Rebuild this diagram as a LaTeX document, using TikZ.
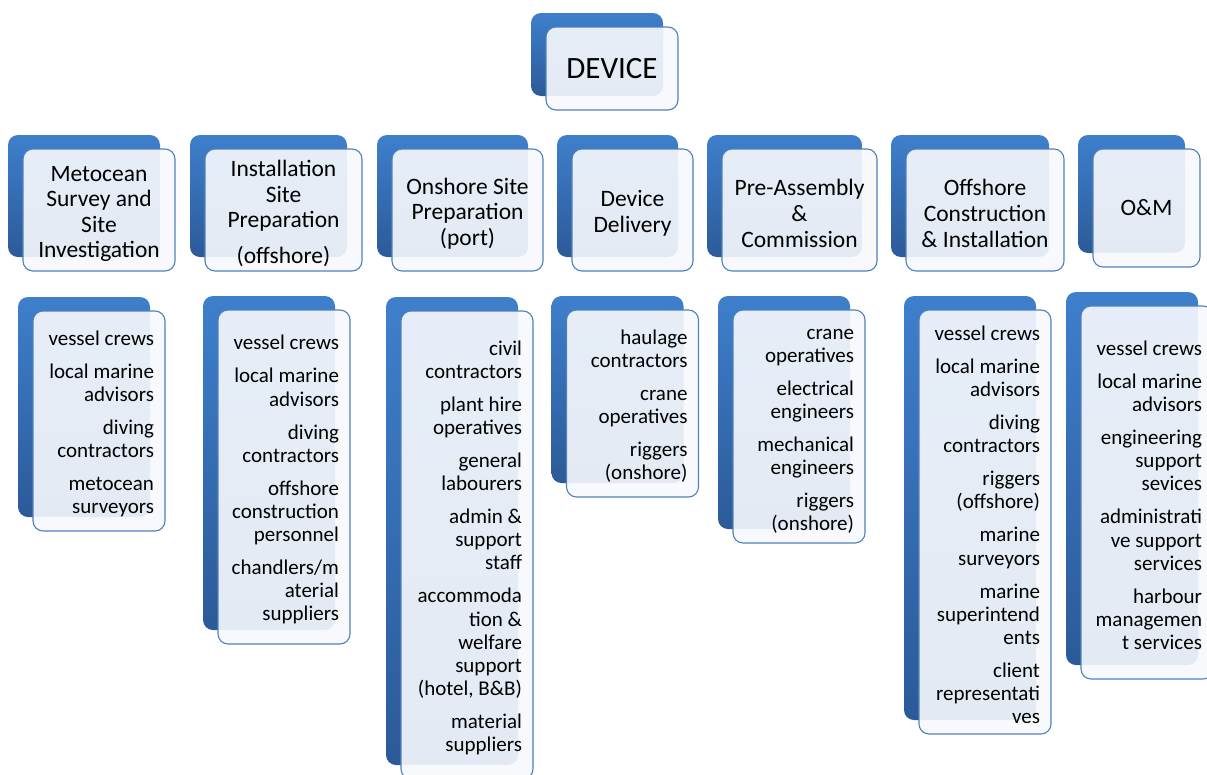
\documentclass[tikz,border=0pt]{standalone}
\usepackage{fontspec}
\setmainfont{Carlito}
\pgfdeclarelayer{bg}
\pgfsetlayers{bg,main}
\definecolor{backtop}{RGB}{62,127,204}
\definecolor{backbot}{RGB}{44,90,152}
\definecolor{frontfill}{RGB}{247,249,253}
\definecolor{frontline}{RGB}{79,129,189}
\definecolor{connc}{RGB}{72,112,168}
\tikzset{
  backbox/.style={rectangle, rounded corners=10pt, top color=backtop, bottom color=backbot, draw=none, inner sep=0pt},
  frontbox/.style={rectangle, rounded corners=10pt, fill=frontfill, fill opacity=0.91, text opacity=1, draw=frontline, line width=1.1pt, inner ysep=0pt},
  conn/.style={draw=connc, line width=1.4pt},
  cattext/.style={font=\fontsize{23.5}{25.6}\selectfont, align=flush center},
  catlow/.style={cattext, execute at begin node={\rule{0pt}{23pt}}},
  devtext/.style={font=\fontsize{31}{34}\selectfont, align=flush center},
  listtext/.style={font=\fontsize{21}{23.1}\selectfont, align=flush right, execute at begin node={\rule{0pt}{20pt}}},
}
% name, back cx, back cy, width, height, text style, inner xsep, text
\newcommand\boxpair[8]{%
  \pgfmathsetmacro\bptw{#4-2*#7}%
  \node[backbox, minimum width=#4pt, minimum height=#5pt] (#1-b) at (#2,#3) {};
  \node[frontbox, #6, inner xsep=#7pt, minimum width=#4pt, minimum height=#5pt, text width=\bptw pt] (#1-f) at (#2+15,#3+14) {#8};
}
\begin{document}
\begin{tikzpicture}[x=1pt,y=-1pt]
\useasboundingbox (0,0) rectangle (1207,774);
\fill[white] (0,0) rectangle (1207,774);

% top
\boxpair{dev}{597}{54.5}{132}{83}{devtext}{4}{DEVICE}

% categories
\boxpair{c1}{84}{196}{152}{122}{catlow}{4}{Metocean\\Survey and\\Site\\Investigation}
\boxpair{c2}{268.5}{196}{157}{122}{catlow}{4}{Installation\\Site\\Preparation\\[10pt](offshore)}
\boxpair{c3}{452.5}{196}{151}{122}{catlow}{4}{Onshore Site\\Preparation\\(port)}
\boxpair{c4}{617.5}{196}{121}{122}{catlow}{4}{Device\\Delivery}
\boxpair{c5}{784.5}{196}{155}{122}{catlow}{4}{Pre-Assembly\\\&\\Commission}
\boxpair{c6}{970}{196}{158}{122}{catlow}{4}{Offshore\\Construction\\\& Installation}
\boxpair{c7}{1131.5}{194}{107}{118}{cattext}{4}{O\&M}

% lists
\boxpair{l1}{84}{407}{132}{220}{listtext}{11}{vessel crews\\[10pt]local marine\\advisors\\[10pt]diving\\contractors\\[10pt]metocean\\surveyors}
\boxpair{l2}{269}{463}{132}{334}{listtext}{11}{vessel crews\\[10pt]local marine\\advisors\\[10pt]diving\\contractors\\[10pt]offshore\\construction\\personnel\\[10pt]chandlers/m\\aterial\\suppliers}
\boxpair{l3}{452}{531}{132}{468}{listtext}{11}{civil\\contractors\\[10pt]plant hire\\operatives\\[10pt]general\\labourers\\[10pt]admin \&\\support\\staff\\[10pt]accommoda\\tion \&\\welfare\\support\\(hotel, B\&B)\\[10pt]material\\suppliers}
\boxpair{l4}{617.5}{389.5}{132}{187}{listtext}{11}{haulage\\contractors\\[10pt]crane\\operatives\\[10pt]riggers\\(onshore)}
\boxpair{l5}{784}{412.5}{132}{233}{listtext}{11}{crane\\operatives\\[10pt]electrical\\engineers\\[10pt]mechanical\\engineers\\[10pt]riggers\\(onshore)}
\boxpair{l6}{970}{508}{132}{424}{listtext}{11}{vessel crews\\[10pt]local marine\\advisors\\[10pt]diving\\contractors\\[10pt]riggers\\(offshore)\\[10pt]marine\\surveyors\\[10pt]marine\\superintend\\ents\\[10pt]client\\representati\\ves}
\boxpair{l7}{1132}{478.5}{132}{373}{listtext}{11}{vessel crews\\[10pt]local marine\\advisors\\[10pt]engineering\\support\\sevices\\[10pt]administrati\\ve support\\services\\[10pt]harbour\\managemen\\t services}

% connectors
\begin{pgfonlayer}{bg}
  \coordinate (bus) at (0,122.5);
  \foreach \k in {1,...,7}{
    \draw[conn] (dev-b.south) -- (dev-b.south |- bus) -| (c\k-b.north);
    \draw[conn] (c\k-b.south) -- (c\k-b.south |- l\k-b.north);
  }
\end{pgfonlayer}
\end{tikzpicture}
\end{document}
